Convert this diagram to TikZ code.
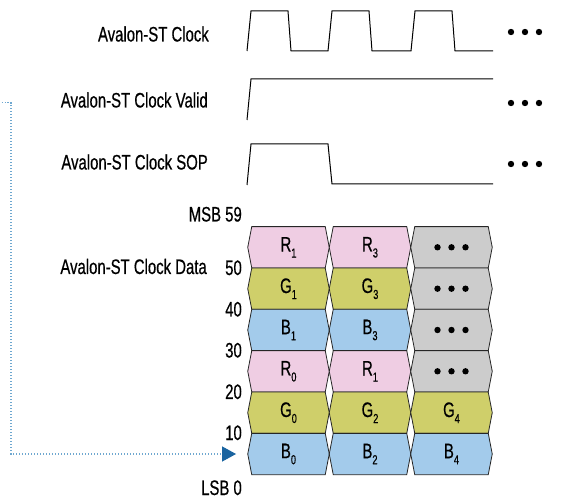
\documentclass[tikz,border=0pt]{standalone}
\usepackage{fontspec}
\setmainfont[FakeStretch=0.71, FakeBold=0.5]{Liberation Sans}
\usetikzlibrary{arrows.meta}
\definecolor{rpink}{HTML}{EFCDE3}
\definecolor{golive}{HTML}{CFCF6A}
\definecolor{bblue}{HTML}{A3CBEB}
\definecolor{nogrey}{HTML}{CCCCCC}
\definecolor{feedblue}{HTML}{6FA8D0}
\definecolor{tipblue}{HTML}{1A64A0}
\tikzset{
  wave/.style={line width=1pt, line join=miter},
  cell/.style={draw=black!85, line width=0.8pt},
  celltext/.style={minimum width=81.5pt, minimum height=41.3pt, inner sep=0pt, font=\fontsize{21}{21}\selectfont},
  siglabel/.style={anchor=base east, inner sep=0pt, font=\fontsize{21}{21}\selectfont},
  feedline/.style={color=feedblue, line width=1.1pt, dash pattern=on 1.1pt off 1.9pt,
    -{Triangle[length=14pt, width=15pt, color=tipblue]}, shorten >=11.5pt}
}
% subscript index of a pixel component
\newcommand{\idx}[1]{\raisebox{-6pt}{\fontsize{13}{13}\selectfont #1}}
% one hexagonal data cell: name, x, y, fill, text
\newcommand{\datacell}[5]{%
  \draw[cell, fill=#4] (#2-40.75,#3) -- ++(4,-20.65) -- ++(73.5,0) -- ++(4,20.65)
    -- ++(-4,20.65) -- ++(-73.5,0) -- cycle;
  \node[celltext] (#1) at (#2,#3) {#5};}
\newcommand{\threedots}[2]{%
  \foreach \dx in {-14,0,14} \fill (#1+\dx,#2) circle (3.2pt);}

\begin{document}
\begin{tikzpicture}[x=1pt, y=-1pt]
  \useasboundingbox (0,0) rectangle (566,500);

  % signal names
  \node[siglabel] (clk) at (209,41.5) {Avalon-ST Clock};
  \node[siglabel] (vld) at (208,107.5) {Avalon-ST Clock Valid};
  \node[siglabel] (sop) at (208,169.5) {Avalon-ST Clock SOP};
  \node[siglabel] (dat) at (207,274) {Avalon-ST Clock Data};

  % waveforms
  \draw[wave] (247,51) -- (251,11) -- (288,11) -- (291,51) -- (328,51) -- (332,11)
    -- (369,11) -- (372,51) -- (411,51) -- (415,11) -- (452,11) -- (455,51) -- (493,51);
  \draw[wave] (247,120) -- (251,79) -- (493,79);
  \draw[wave] (247,185) -- (251,144) -- (328,144) -- (332,184) -- (493,184);
  \threedots{525}{32}
  \threedots{525}{103}
  \threedots{525}{164}

  % bit positions
  \node[siglabel] (msb) at (242,221.5) {MSB 59};
  \node[siglabel] (b50) at (242,275) {50};
  \node[siglabel] (b40) at (242,316.5) {40};
  \node[siglabel] (b30) at (242,357.5) {30};
  \node[siglabel] (b20) at (242,399) {20};
  \node[siglabel] (b10) at (242,440) {10};
  \node[siglabel] (lsb) at (242,495) {LSB 0};

  % data cells
  \datacell{r1}{288.5}{247.3}{rpink}{R\idx{1}}
  \datacell{g1}{288.5}{288.7}{golive}{G\idx{1}}
  \datacell{bb1}{288.5}{330}{bblue}{B\idx{1}}
  \datacell{r0}{288.5}{371.3}{rpink}{R\idx{0}}
  \datacell{g0}{288.5}{412.7}{golive}{G\idx{0}}
  \datacell{bb0}{288.5}{454}{bblue}{B\idx{0}}

  \datacell{r3}{370}{247.3}{rpink}{R\idx{3}}
  \datacell{g3}{370}{288.7}{golive}{G\idx{3}}
  \datacell{bb3}{370}{330}{bblue}{B\idx{3}}
  \datacell{r1b}{370}{371.3}{rpink}{R\idx{1}}
  \datacell{g2}{370}{412.7}{golive}{G\idx{2}}
  \datacell{bb2}{370}{454}{bblue}{B\idx{2}}

  \datacell{n1}{451.5}{247.3}{nogrey}{}
  \datacell{n2}{451.5}{288.7}{nogrey}{}
  \datacell{n3}{451.5}{330}{nogrey}{}
  \datacell{n4}{451.5}{371.3}{nogrey}{}
  \datacell{g4}{451.5}{412.7}{golive}{G\idx{4}}
  \datacell{bb4}{451.5}{454}{bblue}{B\idx{4}}
  \threedots{451.5}{247.3}
  \threedots{451.5}{288.7}
  \threedots{451.5}{330}
  \threedots{451.5}{371.3}

  % incoming pixel stream
  \coordinate (src) at (1.5,102.7);
  \coordinate (drop) at (11,454);
  \draw[feedline] (src) -| (drop) -- (bb0);
\end{tikzpicture}
\end{document}
